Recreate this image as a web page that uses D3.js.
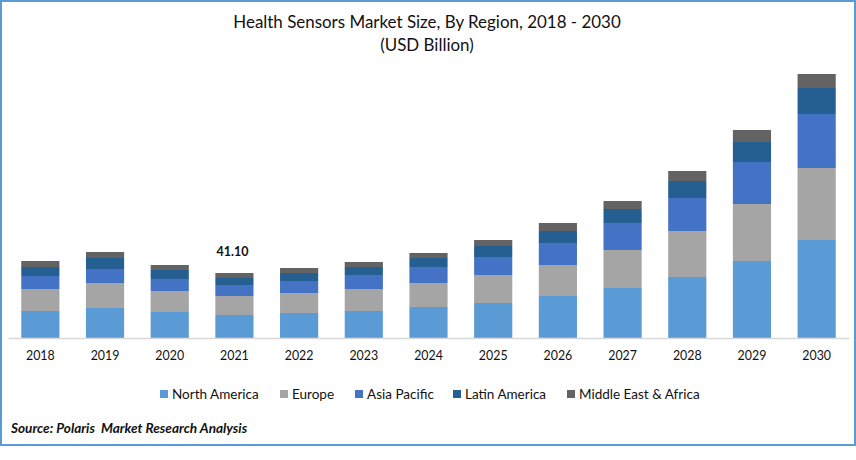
<!DOCTYPE html>
<html>
<head>
<meta charset="utf-8">
<script src="https://cdn.jsdelivr.net/npm/d3@7"></script>
<style>
html,body{margin:0;padding:0;background:#fff;}
svg{display:block;}
text{font-family:Lato,"Open Sans",sans-serif;fill:#111;}
</style>
</head>
<body>
<svg id="chart" width="856" height="460"></svg>
<script>
const years = ["2018","2019","2020","2021","2022","2023","2024","2025","2026","2027","2028","2029","2030"];
const seriesNames = ["North America","Europe","Asia Pacific","Latin America","Middle East & Africa"];
const seriesColors = ["#5b9bd5","#a5a5a5","#4472c4","#255e91","#636363"];
const northAmerica = [17.07,18.97,16.44,14.54,15.81,17.07,19.60,22.13,26.56,31.62,38.57,48.69,61.97];
const europe = [13.91,15.81,13.28,12.01,12.65,13.91,15.18,17.70,19.60,24.03,29.09,36.04,45.53];
const asiaPacific = [8.22,8.85,7.59,6.96,7.59,8.85,10.12,11.38,13.91,17.07,20.87,26.56,34.15];
const latinAmerica = [5.69,6.96,5.69,4.43,5.06,5.06,5.69,6.96,7.59,8.85,10.75,12.65,16.44];
const middleEast = [3.79,3.79,3.16,3.16,3.16,3.16,3.16,3.79,5.06,5.06,6.32,7.59,8.85];
const annotationYear = "2021";
const annotationLabel = "41.10";
const titleLines = ["Health Sensors Market Size, By Region, 2018 - 2030","(USD Billion)"];
const sourceText = "Source: Polaris  Market Research Analysis";

const svg = d3.select("#chart");
const allSeries = [northAmerica, europe, asiaPacific, latinAmerica, middleEast];
const table = years.map((y,i)=>{
  const row={year:y};
  seriesNames.forEach((s,j)=>row[s]=allSeries[j][i]);
  return row;
});
const stacked = d3.stack().keys(seriesNames)(table);

const x = d3.scaleBand().domain(years).range([8,849]).paddingInner(0.41).paddingOuter(0.205);
const y = d3.scaleLinear().domain([0,213.72]).range([338,0]);

// frame
svg.append("rect").attr("x",1).attr("y",1).attr("width",854).attr("height",444)
  .attr("fill","#fff").attr("stroke","#5b9bd5").attr("stroke-width",2);

// bars
svg.append("g").selectAll("g").data(stacked).join("g")
  .attr("fill",(d,i)=>seriesColors[i])
  .selectAll("rect").data(d=>d).join("rect")
  .attr("x",d=>x(d.data.year))
  .attr("width",x.bandwidth())
  .attr("y",d=>y(d[1]))
  .attr("height",d=>y(d[0])-y(d[1]));

// axis
const axis = svg.append("g").attr("transform","translate(0,338)")
  .call(d3.axisBottom(x).tickSize(0).tickPadding(13));
axis.select(".domain").attr("stroke","#d9d9d9").attr("stroke-width",1.5);
axis.selectAll("text").style("font-size","12.4px").style("font-family","Lato,sans-serif").attr("fill","#111");

// annotation
const annTotal = d3.sum(allSeries,s=>s[years.indexOf(annotationYear)]);
svg.append("text").attr("x",x(annotationYear)+x.bandwidth()/2-2).attr("y",y(annTotal)-17)
  .attr("text-anchor","middle").style("font-size","12.5px").style("font-weight","700").text(annotationLabel);

// title
svg.selectAll("text.title").data(titleLines).join("text").attr("class","title")
  .attr("x",427).attr("y",(d,i)=>28+i*23).attr("text-anchor","middle")
  .style("font-size","16.95px").text(d=>d);

// legend
const legendX = [160,280,355,453,567];
const legend = svg.append("g").selectAll("g").data(seriesNames).join("g")
  .attr("transform",(d,i)=>`translate(${legendX[i]},390)`);
legend.append("rect").attr("width",8).attr("height",8).attr("fill",(d,i)=>seriesColors[i]);
legend.append("text").attr("x",12).attr("y",9).style("font-size","13.5px").text(d=>d);

// source
svg.append("text").attr("x",11).attr("y",433).style("font-size","13.6px")
  .style("font-weight","700").style("font-style","italic").attr("xml:space","preserve").text(sourceText);
</script>
</body>
</html>
